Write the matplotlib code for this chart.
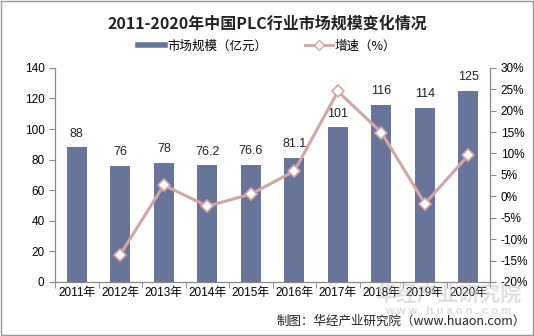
import numpy as np
import matplotlib.pyplot as plt
from matplotlib.lines import Line2D
from matplotlib.patches import Patch

plt.rcParams['font.family'] = ['Liberation Sans', 'Noto Sans CJK SC', 'DejaVu Sans']

# 中国PLC行业市场规模
years = ['2011年', '2012年', '2013年', '2014年', '2015年', '2016年', '2017年', '2018年', '2019年', '2020年']
market = [88, 76, 78, 76.2, 76.6, 81.1, 101, 116, 114, 125]
market_labels = ['88', '76', '78', '76.2', '76.6', '81.1', '101', '116', '114', '125']
growth = [None, -13.6, 2.6, -2.3, 0.5, 5.9, 24.5, 14.9, -1.7, 9.6]

bar_color = '#68749a'
line_color = '#d4a5a5'
axis_color = '#888888'

fig = plt.figure(figsize=(5.34, 3.36), dpi=100)
ax = fig.add_axes([0.103, 0.161, 0.815, 0.637])
x = np.arange(len(years))

ax.bar(x, market, width=0.46, color=bar_color, zorder=2)
for xi, v, s in zip(x, market, market_labels):
    ax.text(xi, v + 5, s, ha='center', va='bottom', fontsize=9, color='#222222')

ax.set_xlim(-0.5, len(years) - 0.5)
ax.set_ylim(0, 140)
ax.set_yticks(range(0, 141, 20))
ax.set_xticks(x)
ax.set_xticklabels(years)
ax.set_xticks(np.arange(-0.5, len(years), 1), minor=True)
ax.tick_params(axis='x', which='major', length=0, labelsize=8.5, pad=4)
ax.tick_params(axis='x', which='minor', length=4, color=axis_color)
ax.tick_params(axis='y', length=4, color=axis_color, labelsize=8.5)
for side in ['top']:
    ax.spines[side].set_visible(False)
for side in ['left', 'bottom', 'right']:
    ax.spines[side].set_color(axis_color)

ax2 = ax.twinx()
gx = [xi for xi, g in zip(x, growth) if g is not None]
gy = [g for g in growth if g is not None]
ax2.plot(gx, gy, color=line_color, linewidth=2.2, marker='D', markersize=6,
         markerfacecolor='white', markeredgecolor=line_color, markeredgewidth=1.2, zorder=3)
ax2.set_ylim(-20, 30)
ax2.set_yticks(range(-20, 31, 5))
ax2.set_yticklabels([f'{t}%' for t in range(-20, 31, 5)])
ax2.tick_params(axis='y', length=4, color=axis_color, labelsize=8.5)
ax2.spines['top'].set_visible(False)
for side in ['left', 'bottom', 'right']:
    ax2.spines[side].set_color(axis_color)

fig.text(0.5, 0.93, '2011-2020年中国PLC行业市场规模变化情况', ha='center', va='center',
         fontsize=11.5, fontweight='bold', family=['Noto Sans CJK SC'], color='#222222')

handles = [Line2D([0], [0], color=bar_color, linewidth=4),
           Line2D([0], [0], color=line_color, linewidth=2, marker='D', markersize=5,
                  markerfacecolor='white', markeredgecolor=line_color)]
fig.legend(handles, ['市场规模（亿元）', '增速（%）'], loc='center', bbox_to_anchor=(0.5, 0.862),
           ncol=2, frameon=False, fontsize=9, handlelength=2.2, handletextpad=0.2,
           columnspacing=3, prop={'family': ['Noto Sans CJK SC'], 'size': 9})

# 水印
fig.text(0.84, 0.125, '华经产业研究院', ha='center', va='center', fontsize=15,
         color='#bbbbbb', alpha=0.45, family=['Noto Sans CJK SC'], fontweight='bold')
fig.text(0.84, 0.075, 'w w w . h u a o n . c o m', ha='center', va='center', fontsize=8,
         color='#bbbbbb', alpha=0.5, fontweight='bold')

fig.text(0.985, 0.045, '制图：华经产业研究院（www.huaon.com）', ha='right', va='center',
         fontsize=9, color='#222222', family=['Noto Sans CJK SC', 'Liberation Sans'])

fig.patches.append(plt.Rectangle((0.002, 0.003), 0.996, 0.994, transform=fig.transFigure,
                                 fill=False, edgecolor='#999999', linewidth=1))

fig.savefig('out.png', dpi=100)
